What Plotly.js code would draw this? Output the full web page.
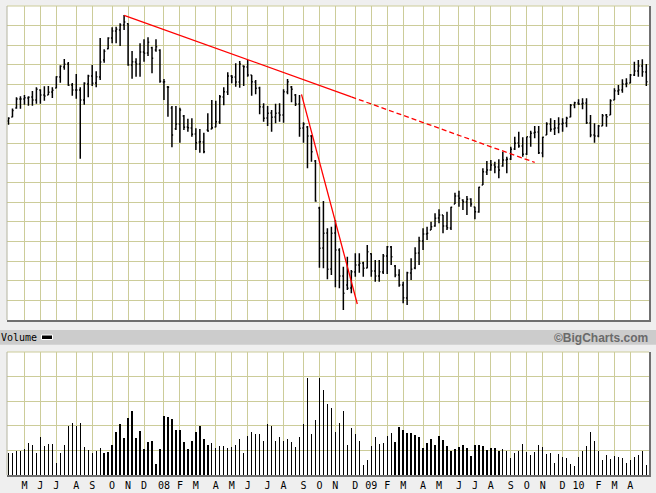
<!DOCTYPE html>
<html><head><meta charset="utf-8">
<script src="https://cdn.plot.ly/plotly-3.0.1.min.js"></script>
<style>html,body{margin:0;padding:0;background:#efefef;} #chart{width:656px;height:493px;}</style>
</head><body><div id="chart"></div>
<script>
// ---- categories: weekly bars (week starting Sunday) ----
const firstWeek = "2007-04-08";
const weekCount = 161;
// ---- month tick labels (gridlines at first week of each month) ----
const monthLabels = ["M","J","J","A","S","O","N","D","08","F","M","A",
  "M","J","J","A","S","O","N","D","09","F","M","A",
  "M","J","J","A","S","O","N","D","10","F","M","A"];
// ---- price series (unitless price scale) ----
const openP = [202.8,207.0,216.0,225.2,225.2,226.2,227.3,224.2,234.4,229.3,
  229.3,232.4,236.4,247.6,257.8,260.9,239.5,234.4,234.4,224.2,
  240.5,248.7,241.5,247.6,265.0,276.5,287.4,294.5,295.5,300.6,
  302.0,259.9,262.9,260.9,273.1,272.1,277.5,275.2,275.0,242.5,
  237.5,216.0,195.0,199.7,207.9,196.7,195.7,189.6,181.4,181.4,
  193.6,194.6,196.7,201.8,227.3,232.4,248.7,247.6,242.5,258.9,
  257.8,249.7,242.5,236.4,217.1,205.9,211.0,206.9,210.9,208.9,
  232.4,237.5,229.3,220.1,195.7,196.7,187.5,162.0,114.1,73.4,
  88.7,52.0,88.7,71.3,44.8,35.7,32.6,48.9,56.1,58.1,
  53.0,67.5,49.9,44.8,48.9,65.2,74.4,55.0,45.9,35.7,
  22.4,47.9,53.0,68.3,80.5,87.6,91.7,95.8,103.9,107.0,
  95.8,93.8,118.2,126.4,122.3,120.3,123.3,115.2,110.1,137.6,
  150.8,152.9,158.0,155.9,156.9,163.1,164.1,174.3,180.4,177.3,
  169.2,186.5,190.6,191.6,170.2,188.5,199.7,194.6,195.7,199.7,
  200.8,206.9,219.1,221.1,220.1,221.1,200.8,188.5,187.5,197.7,
  208.9,208.9,224.2,233.4,234.4,240.5,241.5,249.7,253.8,258.9,
  252.7];
const highP = [206.6,215.5,227.0,228.0,229.3,228.0,233.4,237.1,235.1,238.2,
  238.5,237.1,248.4,259.6,266.0,262.9,241.5,250.7,237.1,242.2,
  250.0,259.9,253.5,287.4,275.9,288.1,298.3,298.9,302.4,310.8,
  302.4,274.1,266.7,282.0,286.1,288.1,278.5,286.1,275.9,245.6,
  238.5,218.1,218.1,216.4,208.9,205.1,205.6,195.4,194.6,190.9,
  210.6,224.2,223.5,229.3,237.1,252.4,249.7,261.6,263.9,259.6,
  265.0,249.7,244.6,237.8,220.8,218.1,214.0,220.4,220.8,235.1,
  245.6,238.5,230.3,229.3,201.5,197.7,188.5,163.1,115.5,121.3,
  93.5,95.1,101.9,73.1,54.3,64.5,51.0,68.0,68.0,59.4,
  76.4,68.0,61.1,61.1,67.3,75.4,75.4,56.1,51.7,39.0,
  49.2,62.9,74.1,84.9,93.5,95.1,100.2,108.7,112.8,107.0,
  110.4,115.5,129.7,131.8,123.0,126.4,124.0,115.5,135.8,154.6,
  162.0,163.1,161.3,163.8,171.5,166.4,176.6,186.8,191.9,186.2,
  186.8,192.9,197.7,197.7,186.8,201.5,205.6,203.8,206.6,205.6,
  207.2,220.1,222.5,224.9,225.9,225.9,208.9,200.5,198.7,209.9,
  209.9,224.9,236.1,239.5,245.3,246.3,250.7,263.2,265.0,265.7,
  260.9];
const lowP = [199.0,206.6,215.3,215.3,219.4,218.4,218.4,220.4,220.4,223.5,
  229.3,226.2,236.1,241.8,255.1,238.8,228.6,225.5,164.4,219.4,
  227.0,238.5,237.1,244.6,262.2,275.9,282.0,282.0,279.2,295.5,
  259.2,245.9,247.9,247.9,263.2,269.0,251.4,273.4,241.8,224.2,
  207.2,176.0,193.6,180.7,193.6,191.9,186.8,173.2,170.5,169.9,
  191.9,194.3,196.4,199.7,218.8,229.3,241.2,237.8,236.7,238.5,
  247.9,228.6,230.0,209.6,202.1,197.7,191.9,200.5,202.1,201.1,
  230.0,221.9,218.1,186.8,180.7,154.6,161.3,120.6,53.3,52.7,
  41.5,45.9,33.3,32.3,10.2,30.6,27.2,44.1,48.2,44.1,
  52.7,44.1,39.0,39.0,46.9,46.9,56.1,43.5,33.9,17.0,
  15.3,40.8,51.7,56.1,71.3,81.5,91.7,95.1,98.5,88.4,
  91.7,91.7,118.2,115.5,112.1,107.0,115.5,102.6,109.4,137.6,
  147.8,152.2,149.5,144.4,156.2,149.5,163.1,173.2,175.6,166.4,
  168.2,176.6,185.2,169.2,165.8,188.5,191.9,188.5,190.3,191.9,
  196.4,206.6,215.7,219.1,214.7,199.7,186.2,180.7,186.2,197.7,
  197.0,208.9,224.2,229.3,231.6,237.1,241.2,248.7,247.9,247.9,
  238.5];
const closeP = [205.6,213.5,225.2,225.2,226.5,227.0,224.2,235.1,229.3,228.3,
  232.0,234.1,247.9,258.5,260.6,239.2,234.4,234.4,224.2,241.2,
  248.7,241.2,247.9,262.9,273.8,287.4,294.5,296.3,300.6,303.7,
  259.9,263.2,260.9,273.1,271.8,283.0,266.7,278.5,243.3,242.9,
  237.1,188.5,199.7,214.0,196.4,196.0,189.3,180.7,181.7,171.5,
  192.6,196.0,202.1,227.6,232.7,248.7,247.3,242.5,260.9,258.1,
  249.7,242.9,236.1,217.4,205.6,210.6,206.6,210.6,208.9,232.7,
  242.9,235.1,220.1,195.4,199.7,187.5,171.5,121.3,73.1,88.4,
  51.7,88.4,71.3,44.8,27.2,32.3,49.2,56.1,57.8,52.7,
  69.6,49.9,44.8,49.2,65.2,74.7,64.5,45.9,35.7,22.7,
  48.2,51.7,68.0,80.8,87.6,88.4,95.1,103.6,107.0,95.8,
  94.1,114.9,126.4,124.0,120.6,123.0,118.2,110.4,135.2,151.1,
  152.9,158.0,155.9,152.9,163.1,163.8,174.0,180.1,177.3,168.9,
  186.8,190.3,191.3,170.5,186.2,199.7,194.3,195.7,199.7,200.5,
  205.6,218.8,221.5,220.1,220.8,201.1,188.5,187.5,197.7,208.2,
  207.2,223.5,233.7,234.4,240.5,241.2,249.7,253.8,258.9,253.0,
  242.9];
// ---- volume series ----
const volume = [8.9,8.9,9.7,9.7,10.5,13.0,12.2,8.9,15.4,11.8,
  12.6,12.6,4.9,8.9,12.2,19.9,21.1,19.9,21.1,11.4,
  10.1,8.9,9.7,10.9,8.9,9.3,12.2,17.4,20.7,15.0,
  23.1,25.9,15.0,17.8,10.5,13.4,13.8,4.5,10.5,23.9,
  23.5,22.7,18.2,18.2,13.4,10.5,13.8,17.4,19.9,14.6,
  12.2,13.0,10.9,11.8,11.8,10.9,11.4,12.2,14.6,8.9,
  15.8,17.4,16.6,16.6,13.8,20.7,19.9,13.8,15.4,13.8,
  14.6,13.4,11.4,15.4,20.7,39.5,16.6,22.3,39.5,34.5,
  28.9,27.2,17.4,21.1,25.9,12.2,19.1,16.6,13.8,4.1,
  6.1,11.8,15.4,12.6,13.0,15.8,17.0,13.4,19.5,18.2,
  17.0,17.0,16.2,15.4,10.9,13.0,14.6,12.2,15.8,14.2,
  11.8,9.7,10.5,11.4,12.2,10.9,7.7,12.2,12.2,11.8,
  10.1,10.9,10.9,9.7,10.5,9.7,6.9,8.9,9.7,12.6,
  9.3,8.1,9.3,12.2,11.4,8.5,8.9,4.9,8.5,7.3,
  6.9,4.5,3.7,7.3,9.7,11.8,17.4,13.8,9.7,6.1,
  8.1,6.5,7.7,7.3,6.9,4.9,6.1,7.3,8.1,9.7,
  4.1];
// ---- hand-drawn trend lines (date, price) ----
const trendSolidDates = ["2007-10-28","2008-11-30"];
const trendSolidValues = [310.5,227.4];
const trendDashDates = ["2008-11-30","2009-10-18"];
const trendDashValues = [227.4,160.6];
const trendSteepDates = ["2008-09-03 12:00","2008-12-10 12:00"];
const trendSteepValues = [230.0,16.3];

// build week dates
const weeks = [];
const t0 = Date.parse(firstWeek + "T00:00:00Z");
for (let i = 0; i < weekCount; i++) {
  weeks.push(new Date(t0 + i * 7 * 86400000).toISOString().slice(0, 10));
}
const tickvals = [];
for (let i = 1; i < weeks.length; i++) {
  if (weeks[i].slice(5, 7) !== weeks[i - 1].slice(5, 7)) tickvals.push(weeks[i]);
}
tickvals.length = monthLabels.length;

const GRID = '#cccc99';
const EDGE = '#707070';
const H = 493, T = 6, B = 18, L = 7, R = 7;
const ph = H - T - B, pw = 656 - L - R;
const py = v => (H - B - v) / ph;   // pixel row -> paper y
const px = v => (v - L) / pw;       // pixel col -> paper x
const priceDom = [py(320), 1];
const volDom = [0, py(352)];
const xRange = ["2007-04-05 09:00", "2010-05-06 17:00"];

const traces = [
  {type: 'ohlc', x: weeks, open: openP, high: highP, low: lowP, close: closeP,
   xaxis: 'x', yaxis: 'y', tickwidth: 0.3, hoverinfo: 'skip',
   increasing: {line: {color: '#000', width: 1.5}},
   decreasing: {line: {color: '#000', width: 1.5}}},
  {type: 'bar', x: weeks, y: volume, xaxis: 'x2', yaxis: 'y2',
   width: 2.4 * 86400000, marker: {color: '#000', line: {width: 0}}, hoverinfo: 'skip'},
  {type: 'scatter', mode: 'lines', x: trendSolidDates, y: trendSolidValues,
   xaxis: 'x', yaxis: 'y', line: {color: '#ff0000', width: 1.3}, hoverinfo: 'skip'},
  {type: 'scatter', mode: 'lines', x: trendDashDates, y: trendDashValues,
   xaxis: 'x', yaxis: 'y', line: {color: '#ff0000', width: 1.3, dash: '5px,3px'}, hoverinfo: 'skip'},
  {type: 'scatter', mode: 'lines', x: trendSteepDates, y: trendSteepValues,
   xaxis: 'x', yaxis: 'y', line: {color: '#ff0000', width: 1.3}, hoverinfo: 'skip'}
];

const xCommon = {
  type: 'date', range: xRange, tickmode: 'array', tickvals: tickvals,
  showgrid: true, gridcolor: GRID, gridwidth: 1, ticks: '', zeroline: false,
  showline: true, linecolor: EDGE, linewidth: 2, rangeslider: {visible: false},
  fixedrange: true
};
const yCommon = {
  showgrid: true, gridcolor: GRID, gridwidth: 1, ticks: '', zeroline: false,
  showticklabels: false, side: 'right', showline: true, linecolor: EDGE, linewidth: 2,
  fixedrange: true
};

const layout = {
  width: 656, height: H,
  margin: {l: L, r: R, t: T, b: B, pad: 0},
  paper_bgcolor: '#efefef', plot_bgcolor: '#ffffff',
  showlegend: false, hovermode: false, dragmode: false,
  xaxis: Object.assign({}, xCommon, {anchor: 'y', showticklabels: false}),
  xaxis2: Object.assign({}, xCommon, {anchor: 'y2', matches: 'x', ticktext: monthLabels,
    showticklabels: true, tickfont: {family: 'DejaVu Sans Mono', size: 10, color: '#000'}}),
  yaxis: Object.assign({}, yCommon, {domain: priceDom, range: [0, 320], tick0: 0, dtick: 20}),
  yaxis2: Object.assign({}, yCommon, {domain: volDom, range: [0, 50], tick0: 0, dtick: 10}),
  bargap: 0,
  shapes: [
    {type: 'rect', xref: 'paper', yref: 'paper', x0: px(0), x1: px(656), y0: py(344.7), y1: py(330),
     fillcolor: '#cccccc', line: {width: 0}},
    {type: 'rect', xref: 'paper', yref: 'paper', x0: px(41.5), x1: px(52.5), y0: py(339.5), y1: py(335),
     fillcolor: '#000', line: {color: '#ffffff', width: 1}},
    {type: 'line', xref: 'paper', yref: 'paper', x0: 0, x1: 1, y0: 1, y1: 1, line: {color: GRID, width: 1}},
    {type: 'line', xref: 'paper', yref: 'paper', x0: 0, x1: 0, y0: priceDom[0], y1: 1, line: {color: '#b4b4a0', width: 1}},
    {type: 'line', xref: 'paper', yref: 'paper', x0: 0, x1: 1, y0: volDom[1], y1: volDom[1], line: {color: GRID, width: 1}},
    {type: 'line', xref: 'paper', yref: 'paper', x0: 0, x1: 0, y0: 0, y1: volDom[1], line: {color: '#b4b4a0', width: 1}}
  ],
  annotations: [
    {text: 'Volume', xref: 'paper', yref: 'paper', x: px(-1), y: py(337.5), xanchor: 'left', yanchor: 'middle',
     showarrow: false, font: {family: 'DejaVu Sans Mono', size: 10, color: '#000'}},
    {text: '©BigCharts.com', xref: 'paper', yref: 'paper', x: px(650), y: py(337.5), xanchor: 'right', yanchor: 'middle',
     showarrow: false, font: {family: 'Liberation Sans', size: 12, color: '#6a6a6a', weight: 'bold'}}
  ]
};

Plotly.newPlot('chart', traces, layout, {staticPlot: true, displayModeBar: false});
</script>
</body></html>
